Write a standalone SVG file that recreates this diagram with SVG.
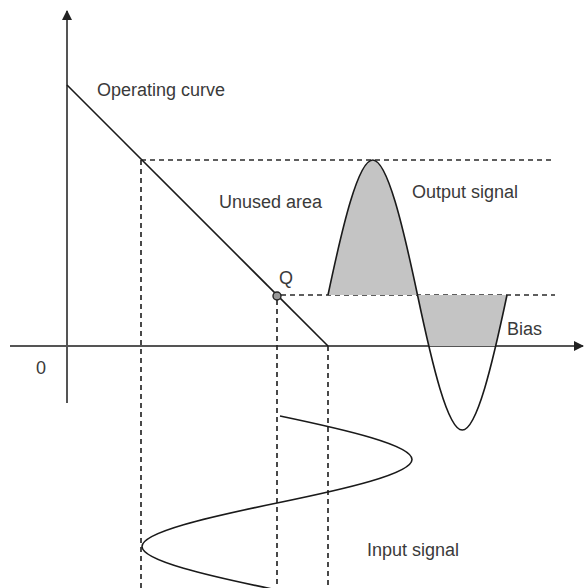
<svg xmlns="http://www.w3.org/2000/svg" width="585" height="588" viewBox="0 0 585 588">
<style>
.lbl{font-family:"Liberation Sans",Arial,sans-serif;font-size:18px;fill:#3a3a3a}
.axis{stroke:#555;stroke-width:2;fill:none}
.dash{stroke:#2a2a2a;stroke-width:1.7;stroke-dasharray:5 4;fill:none}
.curve{stroke:#1a1a1a;stroke-width:1.6;fill:none}
</style>
<defs>
<marker id="arr" viewBox="0 0 10 10" refX="9" refY="5" markerWidth="10" markerHeight="10" markerUnits="userSpaceOnUse" orient="auto">
<path d="M0,0 L10,5 L0,10 Z" fill="#222"/>
</marker>
<clipPath id="above-axis"><rect x="0" y="0" width="585" height="346"/></clipPath>
</defs>
<rect width="585" height="588" fill="#fff"/>
<g id="connectors">
<line class="axis" x1="67" y1="403" x2="67" y2="11" marker-end="url(#arr)"/>
<line class="axis" x1="10" y1="346" x2="583" y2="346" marker-end="url(#arr)"/>
<line class="dash" x1="141" y1="160" x2="555" y2="160"/>
<line class="dash" x1="281" y1="295" x2="555" y2="295"/>
<line class="dash" x1="141" y1="160" x2="141" y2="588"/>
<line class="dash" x1="277" y1="300" x2="277" y2="588"/>
<line class="dash" x1="328" y1="346" x2="328" y2="588"/>
</g>
<g id="operating-curve">
<line class="curve" x1="67" y1="85" x2="328" y2="346"/>
<text class="lbl" x="97" y="96">Operating curve</text>
</g>
<g id="unused-area">
<text class="lbl" x="219" y="208">Unused area</text>
</g>
<g id="q-point">
<circle cx="277" cy="296" r="4" fill="#999" stroke="#222" stroke-width="1.4"/>
<text class="lbl" x="279" y="284">Q</text>
</g>
<g id="output-signal">
<path d="M328,295 C342.6,225.9 358.2,160 372.75,160 C387.3,160 402.9,225.9 417.5,295 C432.1,364.1 447.7,430 462.25,430 C476.8,430 492.4,364.1 507,295 Z" fill="#c4c4c4" stroke="none" clip-path="url(#above-axis)"/>
<path class="curve" d="M328,295 C342.6,225.9 358.2,160 372.75,160 C387.3,160 402.9,225.9 417.5,295 C432.1,364.1 447.7,430 462.25,430 C476.8,430 492.4,364.1 507,295"/>
<text class="lbl" x="412" y="198">Output signal</text>
</g>
<g id="bias">
<text class="lbl" x="507" y="335">Bias</text>
</g>
<g id="origin">
<text class="lbl" x="36" y="374">0</text>
</g>
<g id="input-signal">
<path class="curve" d="M280,416 C348,430.2 412,445.3 412,459.5 C412,473.7 346.1,488.8 277,503 C207.9,517.2 142,532.3 142,546.5 C142,560.7 207.9,575.8 277,590"/>
<text class="lbl" x="367" y="556">Input signal</text>
</g>
</svg>
